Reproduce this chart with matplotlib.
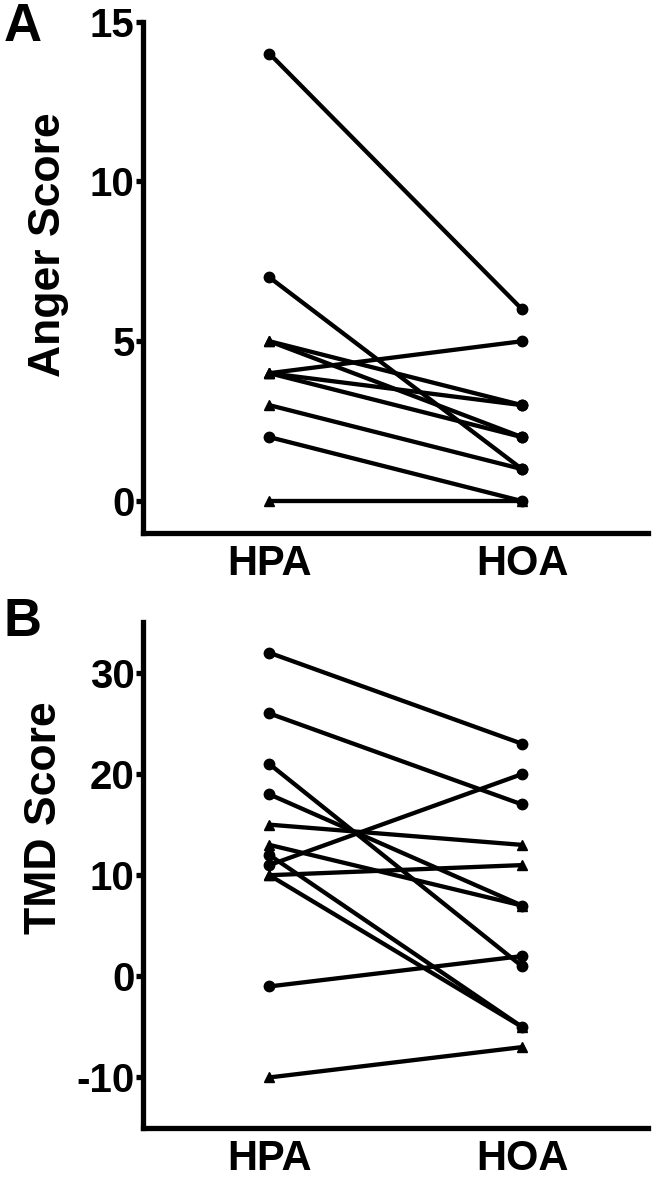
import matplotlib
matplotlib.use("Agg")
import matplotlib.pyplot as plt

plt.rcParams['font.family'] = ['Liberation Sans', 'DejaVu Sans']
plt.rcParams['font.weight'] = 'bold'
plt.rcParams['axes.unicode_minus'] = False

groups = ['HPA', 'HOA']

# panel A - anger score, one pair per subject
anger_hpa = [14, 7, 5, 5, 4, 4, 4, 3, 2, 0]
anger_hoa = [6, 1, 3, 2, 5, 3, 2, 1, 0, 0]
anger_mk_hpa = ['o', 'o', '^', '^', '^', '^', '^', '^', 'o', '^']
anger_mk_hoa = ['o', 'o', 'o', 'o', 'o', 'o', 'o', 'o', 'o', '^']

# panel B - TMD score
tmd_hpa = [32, 26, 21, 18, 15, 13, 12, 11, 10, 10, -1, -10]
tmd_hoa = [23, 17, 1, 7, 13, 7, -5, 20, 11, -5, 2, -7]
tmd_mk_hpa = ['o', 'o', 'o', 'o', '^', '^', 'o', 'o', '^', '^', 'o', '^']
tmd_mk_hoa = ['o', 'o', 'o', 'o', '^', '^', 'o', 'o', '^', '^', 'o', '^']

fig = plt.figure(figsize=(6.64, 11.84), dpi=100)
axA = fig.add_axes([0.2154, 0.5498, 0.761, 0.432])
axB = fig.add_axes([0.2154, 0.0473, 0.761, 0.4270])


def draw(ax, pre, post, mk_pre, mk_post):
    for a, b in zip(pre, post):
        ax.plot([0, 1], [a, b], color='black', lw=3.1, solid_capstyle='round', zorder=2)
    for a, m in zip(pre, mk_pre):
        ax.plot(0, a, marker=m, color='black', ms=7.5, zorder=3)
    for b, m in zip(post, mk_post):
        ax.plot(1, b, marker=m, color='black', ms=7.5, zorder=3)
    ax.set_xlim(-0.5, 1.5)
    ax.set_xticks([0, 1])
    ax.set_xticklabels(groups, fontsize=30, fontweight='bold')
    for s in ['top', 'right']:
        ax.spines[s].set_visible(False)
    for s in ['left', 'bottom']:
        ax.spines[s].set_linewidth(3.8)
    ax.tick_params(axis='x', length=0, pad=8)
    ax.tick_params(axis='y', length=5, width=3.8, labelsize=29, pad=1)
    for lab in ax.get_yticklabels():
        lab.set_fontweight('bold')


draw(axA, anger_hpa, anger_hoa, anger_mk_hpa, anger_mk_hoa)
axA.set_ylim(-1, 15)
axA.set_yticks([0, 5, 10, 15])
axA.text(-0.188, 0.563, 'Anger Score', transform=axA.transAxes, rotation=90,
         ha='center', va='center', fontsize=32, fontweight='bold')

draw(axB, tmd_hpa, tmd_hoa, tmd_mk_hpa, tmd_mk_hoa)
axB.set_ylim(-15, 35)
axB.set_yticks([-10, 0, 10, 20, 30])
axB.text(-0.194, 0.614, 'TMD Score', transform=axB.transAxes, rotation=90,
         ha='center', va='center', fontsize=32, fontweight='bold')

fig.text(0.006, 0.998, 'A', fontsize=38, fontweight='bold', va='top', ha='left')
fig.text(0.006, 0.496, 'B', fontsize=38, fontweight='bold', va='top', ha='left')

fig.savefig('out.png', dpi=100)
